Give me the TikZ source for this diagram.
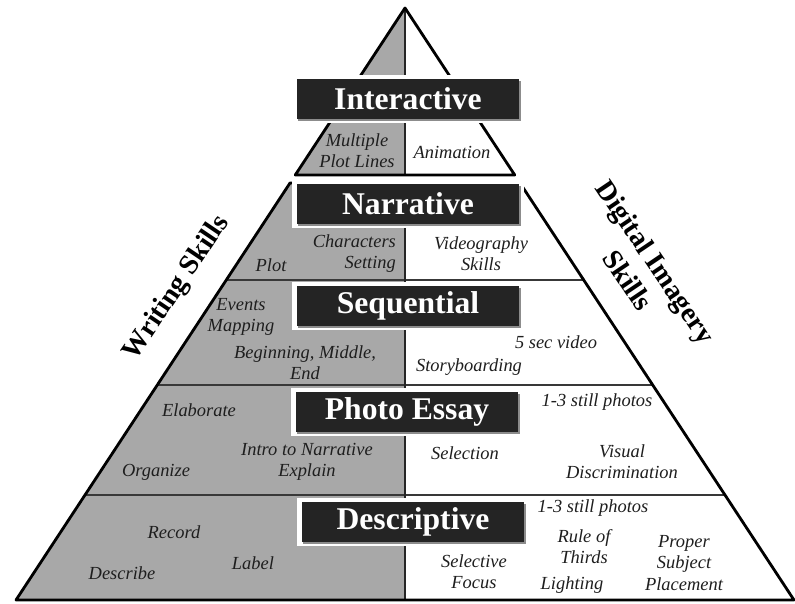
\documentclass[tikz,border=0pt]{standalone}
\usepackage{fontspec}
\setmainfont{Liberation Serif}
\usetikzlibrary{calc,shadows}
\definecolor{pyrgray}{RGB}{168,168,168}
\definecolor{boxblack}{RGB}{36,36,36}
\definecolor{inkgray}{RGB}{30,30,30}

\begin{document}
\begin{tikzpicture}[x=0.02cm, y=-0.02cm,
    title/.style={fill=boxblack, text=white, font=\fontsize{18}{20}\selectfont\bfseries, minimum width=4.46cm, minimum height=0.8cm, inner sep=0pt, preaction={draw=white, line width=5pt}, drop shadow={shadow xshift=1pt, shadow yshift=-1pt, fill=black!45, opacity=1}},
    item/.style={font=\fontsize{10.5}{12}\selectfont\itshape, text=inkgray, align=center, inner sep=1pt},
    side/.style={font=\fontsize{16}{19}\selectfont\bfseries, align=center, inner sep=0pt},
    edge/.style={draw=black, line width=1.6pt, line join=round},
    band/.style={draw=black!78, line width=1.5pt},
    spine/.style={draw=black!85, line width=1.2pt},
]
    \useasboundingbox[fill=white] (0,0) rectangle (795,603);

    % pyramid corners
    \coordinate (apex) at (405,8);
    \coordinate (bl) at (16,600);
    \coordinate (br) at (794,600);
    \coordinate (tl) at ($(apex)!0.2821!(bl)$);
    \coordinate (tr) at ($(apex)!0.2821!(br)$);
    \coordinate (ml) at ($(apex)!0.2956!(bl)$);
    \coordinate (mr) at ($(apex)!0.2956!(br)$);

    % writing half shaded
    \fill[pyrgray] (apex) -- (tl) -- (tl -| apex) -- cycle;
    \fill[pyrgray] (ml) -- (ml -| apex) -- (bl -| apex) -- (bl) -- cycle;

    % band dividers
    \begin{scope}
        \clip (ml) -- (mr) -- (br) -- (bl) -- cycle;
        \foreach \yy in {280,385,495}
            \draw[band] (0,\yy) -- (795,\yy);
    \end{scope}

    \draw[spine] (apex) -- (tl -| apex);
    \draw[spine] (ml -| apex) -- (bl -| apex);
    \draw[edge] (apex) -- (tl) -- (tr) -- cycle;
    \draw[edge] (ml) -- (mr) -- (br) -- (bl) -- cycle;

    % level titles
    \node[title] (interactive) at (408,99)  {Interactive};
    \node[title] (narrative)   at (408,204) {Narrative};
    \node[title] (sequential)  at (408,306) {Sequential};
    \node[title] (photoessay)  at (407,412) {Photo Essay};
    \node[title] (descriptive) at (413,522) {Descriptive};

    % interactive
    \node[item] (multiplot) at (357,151) {Multiple\\Plot Lines};
    \node[item] (animation) at (452,152) {Animation};

    % narrative
    \node[item, align=right, anchor=east] (charset) at (398,254) {Characters\\Setting};
    \node[item] (plot)  at (271,265) {Plot};
    \node[item] (video) at (481,254) {Videography\\Skills};

    % sequential
    \node[item] (events)    at (241,317) {Events\\Mapping};
    \node[item] (bme)       at (305,363) {Beginning, Middle,\\End};
    \node[item] (fivesec)   at (556,342) {5 sec video};
    \node[item] (storyb)    at (469,367) {Storyboarding};

    % photo essay
    \node[item] (elaborate) at (199,410) {Elaborate};
    \node[item] (photosa)   at (597,402) {1-3 still photos};
    \node[item] (intro)     at (307,462) {Intro to Narrative\\Explain};
    \node[item] (organize)  at (156,472) {Organize};
    \node[item] (selection) at (465,453) {Selection};
    \node[item] (visual)    at (622,462) {Visual\\Discrimination};

    % descriptive
    \node[item] (photosb)   at (593,508) {1-3 still photos};
    \node[item] (record)    at (174,532) {Record};
    \node[item] (describe)  at (122,573) {Describe};
    \node[item] (label)     at (253,563) {Label};
    \node[item] (selfocus)  at (474,572) {Selective\\Focus};
    \node[item] (thirds)    at (584,547) {Rule of\\Thirds};
    \node[item] (lighting)  at (572,585) {Lighting};
    \node[item] (placement) at (684,563) {Proper\\Subject\\Placement};

    % side headings
    \node[side, rotate=56]  (writing) at (177,288) {Writing Skills};
    \node[side, rotate=-56] (digital) at (642,271) {Digital Imagery\\Skills};
\end{tikzpicture}
\end{document}
